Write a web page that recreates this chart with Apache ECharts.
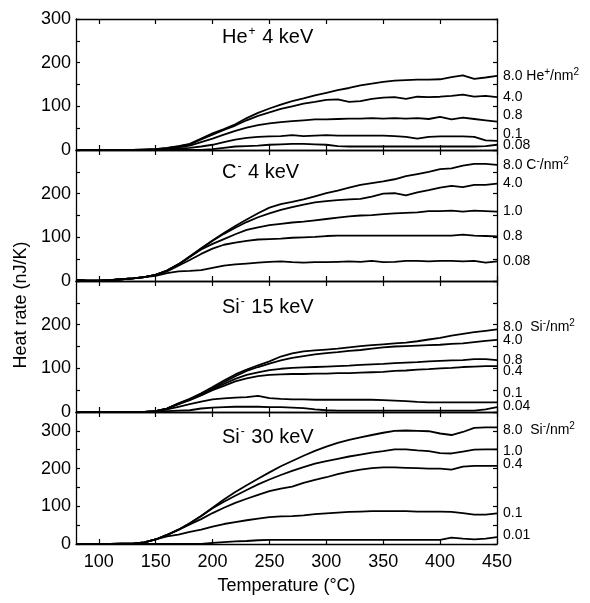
<!DOCTYPE html>
<html><head><meta charset="utf-8">
<script src="https://cdn.jsdelivr.net/npm/echarts@6/dist/echarts.min.js"></script>
<style>html,body{margin:0;padding:0;background:#fff}#c{width:590px;height:603px}</style>
</head><body><div id="c"></div>
<script>
// ---------- DATA ----------
const temps = [80,90,100,110,120,130,140,150,160,170,180,190,200,210,220,230,240,250,260,270,280,290,300,310,320,330,340,350,360,370,380,390,400,410,420,430,440,450];
const xTicks = [100,150,200,250,300,350,400,450];

const panelTitles = ['He{sup|+} 4 keV','C{sup|-} 4 keV','Si{sup|-} 15 keV','Si{sup|-} 30 keV'];
const yMax = [300,300,300,350];
const yLabelValues = [[0,100,200,300],[0,100,200],[0,100,200],[0,100,200,300]];

// Panel 1: He+ 4 keV
const he_labels = ['8.0 He{sup|+}/nm{sup|2}','4.0','0.8','0.1','0.08'];
const he_8_0 = [0,0,0,0,0,0,1,2,5,9,14,26,38,48,59,73,85,95,104,112,118,125,131,137,142,148,152,156,159,160,161,161,162,167,171,163,166,170];
const he_4_0 = [0,0,0,0,0,0,1,2,4,8,13,24,35,46,56,68,78,86,94,100,106,110,115,116,110,112,117,120,121,117,122,121,122,124,127,122,124,121];
const he_0_8 = [0,0,0,0,0,0,1,1,3,6,10,18,26,35,44,51,57,61,64,66,68,70,70,71,72,72,73,72,73,72,73,71,76,70,74,71,68,65];
const he_0_1 = [0,0,0,0,0,0,0,1,2,3,5,8,12,18,24,28,30,31,32,34,32,33,34,33,33,33,33,33,32,30,26,30,31,31,31,30,22,21];
const he_0_08 = [0,0,0,0,0,0,0,0,0,0,0,0,2,5,8,9,10,12,13,14,14,13,12,9,8,8,8,8,8,8,8,8,8,8,8,8,9,12];

// Panel 2: C- 4 keV
const c_labels = ['8.0 C{sup|-}/nm{sup|2}','4.0','1.0','0.8','0.08'];
const c_8_0 = [2,1,1,2,4,6,9,14,24,38,56,75,93,110,126,141,155,168,176,181,187,194,201,207,214,220,224,228,233,240,245,250,256,258,264,268,268,266];
const c_4_0 = [2,1,1,2,4,6,9,14,24,38,56,74,92,108,122,135,146,155,163,169,175,180,183,185,187,188,193,200,201,196,203,208,214,218,215,220,220,223];
const c_1_0 = [2,1,1,2,4,6,9,14,24,38,55,72,85,96,107,117,123,128,131,134,136,139,142,145,148,150,151,153,155,156,157,160,160,161,159,161,160,159];
const c_0_8 = [2,1,1,2,4,6,9,14,22,35,48,62,74,83,88,92,95,96,97,99,100,101,103,104,104,104,104,104,104,104,104,104,104,104,106,104,103,102];
const c_0_08 = [2,1,1,2,4,6,9,12,18,22,23,25,30,35,38,40,42,44,45,43,42,43,43,44,45,44,46,43,44,46,46,45,46,46,45,46,42,45];

// Panel 3: Si- 15 keV
const s15_labels = ['8.0  Si{sup|-}/nm{sup|2}','4.0','0.8','0.4','0.1','0.04'];
const s15_8_0 = [0,0,0,0,0,0,0,2,8,20,30,43,57,72,86,97,107,116,127,134,139,141,143,145,148,151,153,155,157,159,162,166,170,175,179,183,186,189];
const s15_4_0 = [0,0,0,0,0,0,0,2,8,19,29,41,54,68,82,94,103,111,118,124,128,132,135,137,140,142,145,148,150,151,152,153,154,156,157,160,163,165];
const s15_0_8 = [0,0,0,0,0,0,0,2,8,18,28,40,52,64,76,85,91,96,99,101,102,103,104,105,106,108,109,110,112,113,114,116,117,118,119,121,121,119];
const s15_0_4 = [0,0,0,0,0,0,0,2,8,18,27,38,50,60,70,77,82,85,86,87,87,88,88,89,89,90,91,92,94,95,97,98,100,101,103,104,105,105];
const s15_0_1 = [0,0,0,0,0,0,0,1,6,12,18,24,29,31,33,34,37,32,30,29,29,28,28,28,28,28,28,27,26,25,23,22,22,22,22,22,22,22];
const s15_0_04 = [0,0,0,0,0,0,0,0,2,3,4,8,10,11,12,12,12,11,11,10,9,6,4,3,3,3,3,3,3,3,3,3,3,3,3,3,6,11];

// Panel 4: Si- 30 keV
const s30_labels = ['8.0  Si{sup|-}/nm{sup|2}','1.0','0.4','0.1','0.01'];
const s30_8_0 = [0,0,0,0,1,1,4,12,24,38,55,74,96,118,138,156,173,190,206,220,234,247,258,268,276,283,289,295,300,301,300,299,293,289,297,308,309,309];
const s30_1_0 = [0,0,0,0,1,1,4,12,24,38,55,74,95,112,128,143,158,171,183,194,204,213,220,226,232,237,242,246,251,251,248,246,241,240,245,250,251,251];
const s30_0_4 = [0,0,0,0,1,1,4,12,24,37,52,66,82,96,109,120,130,140,147,152,162,170,177,185,192,197,201,203,203,202,201,200,200,197,205,207,207,207];
const s30_0_1 = [0,0,0,0,1,1,4,12,20,25,32,38,46,53,58,63,67,71,73,74,76,79,81,83,85,86,87,87,87,87,86,86,86,85,82,78,78,81];
const s30_0_01 = [0,0,0,0,0,0,0,0,0,0,0,0,3,5,7,8,10,11,11,11,11,11,11,11,11,11,11,11,11,11,11,11,11,17,14,12,14,18];

const panels = [
  {labels: he_labels, curves: [he_8_0, he_4_0, he_0_8, he_0_1, he_0_08], dy: [0,0,-6,-7,0]},
  {labels: c_labels, curves: [c_8_0, c_4_0, c_1_0, c_0_8, c_0_08], dy: [0,0,0,0,0]},
  {labels: s15_labels, curves: [s15_8_0, s15_4_0, s15_0_8, s15_0_4, s15_0_1, s15_0_04], dy: [-2,0,0,5,-9,-1]},
  {labels: s30_labels, curves: [s30_8_0, s30_1_0, s30_0_4, s30_0_1, s30_0_01], dy: [3,2,-2,0,-2]}
];

// ---------- LAYOUT ----------
const FONT = 'Liberation Sans, Arial, Helvetica, sans-serif';
const gridBox = [{top:19,height:131},{top:150,height:131},{top:281,height:131},{top:412,height:132}];
const titleTops = [21,156,291,421];
const supRich = {sup:{fontSize:10, verticalAlign:'top', fontFamily:FONT, color:'#000', padding:[0,0,8,0]}};

const grid = [], xAxis = [], yAxis = [], series = [], title = [];
const lineCol = '#000';
gridBox.forEach((g,p) => {
  grid.push({left:76, right:93, top:g.top, height:g.height});
  const bottomX = {
    type:'value', gridIndex:p, position:'bottom', min:80, max:450,
    axisLine:{show:true, onZero:false, lineStyle:{color:lineCol, width:1.3}},
    axisTick:{show:true, inside:true, length:5, customValues:xTicks, lineStyle:{color:lineCol, width:1.2}},
    axisLabel:{show:p===3, customValues:xTicks, fontSize:18, color:'#000', fontFamily:FONT, margin:9},
    splitLine:{show:false}
  };
  if (p===3) {
    bottomX.name = 'Temperature (\u00B0C)';
    bottomX.nameLocation = 'middle';
    bottomX.nameGap = 33;
    bottomX.nameTextStyle = {fontSize:18, color:'#000', fontFamily:FONT};
  }
  xAxis.push(bottomX);
  xAxis.push({
    type:'value', gridIndex:p, position:'top', min:80, max:450,
    axisLine:{show:true, onZero:false, lineStyle:{color:lineCol, width:1.3}},
    axisTick:{show:true, inside:true, length:5, customValues:xTicks, lineStyle:{color:lineCol, width:1.2}},
    axisLabel:{show:false}, splitLine:{show:false}
  });
  yAxis.push({
    type:'value', gridIndex:p, position:'left', min:0, max:yMax[p], interval:50,
    axisLine:{show:true, onZero:false, lineStyle:{color:lineCol, width:1.3}},
    axisTick:{show:true, inside:true, length:4, lineStyle:{color:lineCol, width:1.2}},
    axisLabel:{show:true, customValues:yLabelValues[p], fontSize:18, color:'#000', fontFamily:FONT, margin:5},
    splitLine:{show:false}
  });
  yAxis.push({
    type:'value', gridIndex:p, position:'right', min:0, max:yMax[p], interval:50,
    axisLine:{show:true, onZero:false, lineStyle:{color:lineCol, width:1.3}},
    axisTick:{show:true, inside:true, length:4, lineStyle:{color:lineCol, width:1.2}},
    axisLabel:{show:false}, splitLine:{show:false}
  });
  title.push({
    text: panelTitles[p], left:217, top:titleTops[p],
    textStyle:{fontSize:20, fontWeight:'normal', color:'#000', fontFamily:FONT, rich:{sup:{fontSize:12, verticalAlign:'top', fontFamily:FONT, color:'#000', padding:[0,1,10,1]}}}
  });
  const P = panels[p];
  P.curves.forEach((vals,k) => {
    series.push({
      type:'line', xAxisIndex:2*p, yAxisIndex:2*p,
      data: temps.map((t,i)=>[t, vals[i]]),
      showSymbol:false, symbol:'none', silent:true, animation:false,
      lineStyle:{color:'#000', width:1.8},
      endLabel:{show:true, formatter:P.labels[k], distance:6, offset:[0,P.dy[k]],
        fontSize:14, color:'#000', fontFamily:FONT, rich:supRich}
    });
  });
});

const chart = echarts.init(document.getElementById('c'), null, {renderer:'canvas'});
chart.setOption({
  animation:false,
  backgroundColor:'#fff',
  title, grid, xAxis, yAxis, series,
  graphic:[{type:'text', rotation:Math.PI/2,
    style:{text:'Heat rate (nJ/K)', fontSize:18, fill:'#000', fontFamily:FONT, textAlign:'center', textVerticalAlign:'middle'},
    x:21, y:305}]
});
</script></body></html>
